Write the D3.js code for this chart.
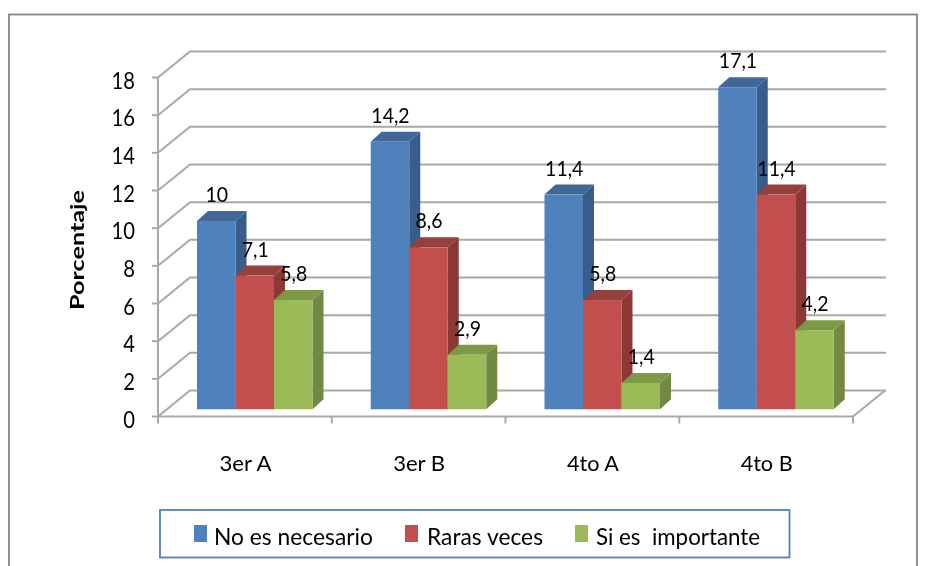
<!DOCTYPE html>
<html><head><meta charset="utf-8">
<script src="https://cdn.jsdelivr.net/npm/d3@7"></script>
<style>html,body{margin:0;background:#fff}svg{display:block}text{font-family:Lato,"Open Sans",sans-serif;fill:#000;white-space:pre}</style>
</head><body><svg id="c" width="928" height="566"></svg>
<script>
const categories=["3er A","3er B","4to A","4to B"];
const seriesNames=["No es necesario","Raras veces","Si es  importante"];
const noEsNecesario=[10,14.2,11.4,17.1];
const rarasVeces=[7.1,8.6,5.8,11.4];
const siEsImportante=[5.8,2.9,1.4,4.2];
const valueLabels=[["10","14,2","11,4","17,1"],["7,1","8,6","5,8","11,4"],["5,8","2,9","1,4","4,2"]];
const yTicks=[0,2,4,6,8,10,12,14,16,18];
const series=[noEsNecesario,rarasVeces,siEsImportante];
const faces=[["#4f81bd","#385d8a"],["#c0504d","#8c3836"],["#9bbb59","#71893f"]];
const tops=["#3f6797","#963f3c","#7c9a45"];

const svg=d3.select("#c");
svg.append("defs").append("filter").attr("id","soft").attr("x","-5%").attr("y","-5%").attr("width","110%").attr("height","110%")
  .append("feGaussianBlur").attr("stdDeviation",0.45);
const root=svg.append("g").attr("filter","url(#soft)");
root.append("rect").attr("x",9).attr("y",14.5).attr("width",908).attr("height",560).attr("fill","#fff").attr("stroke","#868686").attr("stroke-width",1.8);

const y=d3.scaleLinear().domain([0,18]).range([416.5,77.5]);
const x0=d3.scaleBand().domain(categories).range([158,853]);
const inner=d3.scaleBand().domain(d3.range(3)).range([39,154.5]);
const wallDx=32,wallDy=-26,barBase=-7.2,depthX=11,depthY=-10;
const squeeze=(sel,f)=>{sel.attr("textLength",sel.node().getComputedTextLength()*f).attr("lengthAdjust","spacingAndGlyphs");return sel;};
const gg=root.append("g").attr("fill","none").attr("stroke","#a8a8a8").attr("stroke-width",2);
yTicks.forEach(t=>{
  gg.append("path").attr("d",d3.line()([[158,y(t)],[158+wallDx,y(t)+wallDy],[886,y(t)+wallDy]]));
  gg.append("line").attr("x1",152).attr("x2",158).attr("y1",y(t)).attr("y2",y(t));
});
gg.append("path").attr("d",d3.line()([[158,y(0)],[158,y(18)]]));
gg.append("path").attr("d",d3.line()([[853,y(0)],[853+wallDx,y(0)+wallDy]]));
gg.append("path").attr("d",d3.line()([[158,y(0)],[853,y(0)]]));
[...categories.map(c=>x0(c)),853].forEach(v=>gg.append("line").attr("x1",v).attr("x2",v).attr("y1",y(0)).attr("y2",y(0)+7));

yTicks.forEach(t=>squeeze(root.append("text").attr("x",135).attr("y",y(t)+11).attr("text-anchor","end").attr("font-size",23.5).text(t),0.86));
root.append("text").attr("transform","translate(84,250) rotate(-90)").attr("text-anchor","middle").attr("font-size",19).attr("font-weight",700).attr("textLength",120).attr("lengthAdjust","spacingAndGlyphs").text("Porcentaje");
categories.forEach(c=>root.append("text").attr("x",x0(c)+x0.bandwidth()/2+0.5).attr("y",471).attr("text-anchor","middle").attr("font-size",22).attr("textLength",52).attr("lengthAdjust","spacingAndGlyphs").text(c));

categories.forEach((c,i)=>{
  series.forEach((s,k)=>{
    const l=x0(c)+inner(k), w=inner.bandwidth(), r=l+w, b=y(0)+barBase, t=y(s[i])+barBase;
    const g=root.append("g");
    g.append("path").attr("fill",faces[k][1]).attr("d",d3.line()([[r,b],[r+depthX,b+depthY],[r+depthX,t+depthY],[r,t]])+"Z");
    g.append("path").attr("fill",tops[k]).attr("d",d3.line()([[l,t],[l+depthX,t+depthY],[r+depthX,t+depthY],[r,t]])+"Z");
    g.append("rect").attr("x",l).attr("y",t).attr("width",w).attr("height",b-t).attr("fill",faces[k][0]);
  });
});
categories.forEach((c,i)=>{
  series.forEach((s,k)=>{
    squeeze(root.append("text").attr("x",x0(c)+inner(k)+inner.bandwidth()/2+0.5).attr("y",y(s[i])+barBase-19).attr("text-anchor","middle").attr("font-size",20.5).text(valueLabels[k][i]),0.95);
  });
});

root.append("rect").attr("x",160).attr("y",510).attr("width",629.5).attr("height",47.5).attr("fill","#fff").attr("stroke","#4f81bd").attr("stroke-width",1.8);
const legendScale=d3.scaleOrdinal().domain(seriesNames);
const swatchX=legendScale.copy().range([194,405,575]);
const labelX=legendScale.copy().range([214,427,596]);
const labelW=legendScale.copy().range([159,116,164]);
seriesNames.forEach((n,k)=>{
  root.append("rect").attr("x",swatchX(n)).attr("y",525).attr("width",13).attr("height",17).attr("fill",faces[k][0]);
  root.append("text").attr("x",labelX(n)).attr("y",545).attr("font-size",23).attr("textLength",labelW(n)).attr("lengthAdjust","spacingAndGlyphs").text(n);
});
</script></body></html>
